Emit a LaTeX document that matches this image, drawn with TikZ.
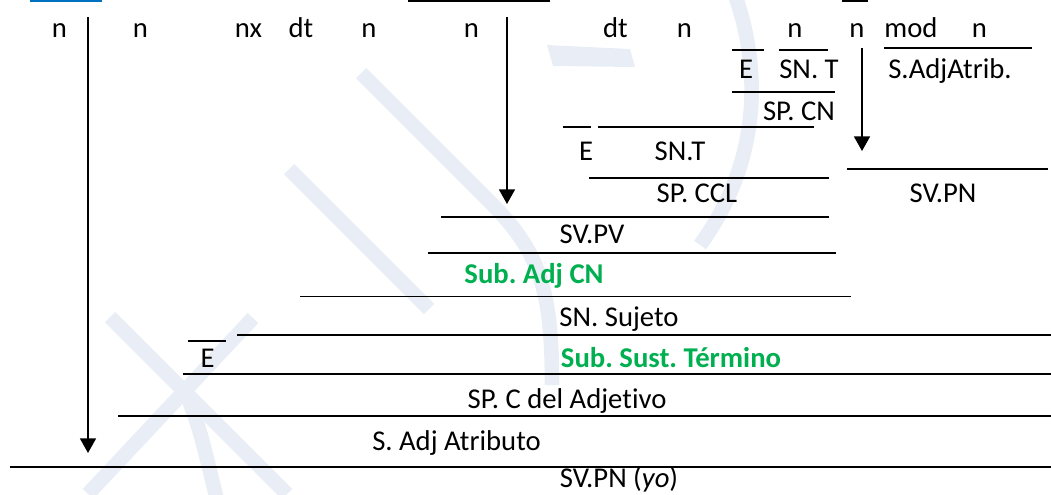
\documentclass[tikz,border=0pt]{standalone}
\usepackage{fontspec}
\setmainfont[Ligatures=NoCommon]{Carlito}
\usetikzlibrary{arrows.meta}
\definecolor{wmblue}{RGB}{233,238,246}
\definecolor{subgreen}{RGB}{0,176,80}
\definecolor{linkblue}{RGB}{0,112,192}
\frenchspacing
\begin{document}
\begin{tikzpicture}[
  x = 0.75pt, y = -0.75pt,
  rule/.style={line width=1.4pt},
  down/.style={line width=1.3pt, -{Triangle[length=11pt,width=12pt]}},
  word/.style={anchor=base, inner sep=0pt, font=\fontsize{21.5}{26}\selectfont},
  subword/.style={word, text=subgreen, font=\fontsize{21.5}{26}\selectfont\bfseries},
  wm/.style={draw=wmblue, line width=11pt}
]
%general params
\def\rowA{37.5} %word row
\def\edge{1051}

\useasboundingbox (0,0) rectangle (1051,494);

%watermark
\draw[wm] (110,317) -- (287,494);
\draw[wm] (253,318) -- (88,494);
\draw[wm] (187,395) .. controls (200,430) .. (217,500);
\draw[wm] (289,169) -- (429,309);
\draw[wm] (361,73) -- (490,202) .. controls (540,252) and (552,290) .. (552,385);
\draw[wm] (735,-5) .. controls (765,80) and (755,170) .. (700,245);
\fill[wmblue] (547,45) -- (630,49) -- (635,67) -- (553,66) -- cycle;

%cut row above
\draw[linkblue, line width=1.5pt] (30,1) -- (102,1);
\draw[line width=1.5pt] (408,1) -- (550,1);
\draw[line width=1.5pt] (842,1) -- (868,1);

%words
\node[word] (n1)  at (59.5,\rowA)  {n};
\node[word] (n2)  at (140.5,\rowA) {n};
\node[word] (nx)  at (248.5,\rowA) {nx};
\node[word] (dt1) at (301,\rowA)   {dt};
\node[word] (n3)  at (369,\rowA)   {n};
\node[word] (n4)  at (471.5,\rowA) {n};
\node[word] (dt2) at (615.5,\rowA) {dt};
\node[word] (n5)  at (684.5,\rowA) {n};
\node[word] (n6)  at (795,\rowA)   {n};
\node[word] (n7)  at (857,\rowA)   {n};
\node[word] (mod) at (911,\rowA)   {mod};
\node[word] (n8)  at (979.5,\rowA) {n};

%SP. CN
\draw[rule] (732,50) -- (764,50);
\draw[rule] (779,50) -- (828,50);
\node[word] (enlA) at (746,78) {E};
\node[word] (sntA) at (809,78) {SN. T};
\draw[rule] (732,92) -- (835,92);
\node[word] (spcn) at (799,120) {SP. CN};

%S.AdjAtrib. / SV.PN
\draw[rule] (884,48) -- (1032,48);
\node[word] (adjat) at (950,78) {S.AdjAtrib.};
\coordinate (arrC) at (862,48);
\coordinate (tipC) at (862,151);
\draw[down] (arrC) -- (tipC);
\draw[rule] (847,169) -- (1048,169);
\node[word] (svpnA) at (943,202.5) {SV.PN};

%SP. CCL
\draw[rule] (563,127) -- (591,127);
\draw[rule] (598,127) -- (814,127);
\node[word] (enlB) at (586,160.5) {E};
\node[word] (sntB) at (680,160.5) {SN.T};
\draw[rule] (589,178) -- (829,178);
\node[word] (spccl) at (697,202.5) {SP. CCL};

%SV.PV
\coordinate (arrB) at (507,17);
\coordinate (tipB) at (507,204);
\draw[down] (arrB) -- (tipB);
\draw[rule] (441,217) -- (829,217);
\node[word] (svpv) at (592,243) {SV.PV};
\draw[rule] (428,253) -- (836,253);
\node[subword] (subadj) at (534,283) {Sub. Adj CN};
\draw[rule] (300,296.5) -- (851,296.5);
\node[word] (snsuj) at (619,326) {SN. Sujeto};

%Sub. Sust.
\draw[rule] (237,335) -- (\edge,335);
\draw[rule] (188,341) -- (226,341);
\node[word] (enlC) at (207.5,367) {E};
\node[subword] (subsust) at (671,367) {Sub. Sust. Término};
\draw[rule] (183,374) -- (\edge,374);
\node[word] (spcadj) at (567,408) {SP. C del Adjetivo};
\draw[rule] (118,416) -- (\edge,416);
\node[word] (sadjat) at (456.5,450) {S. Adj Atributo};

%SV.PN
\coordinate (arrA) at (88,17);
\coordinate (tipA) at (88,453);
\draw[down] (arrA) -- (tipA);
\draw[rule] (10,467) -- (\edge,467);
\node[word] (svpnB) at (619,487) {SV.PN (\textit{yo})};

\end{tikzpicture}
\end{document}
